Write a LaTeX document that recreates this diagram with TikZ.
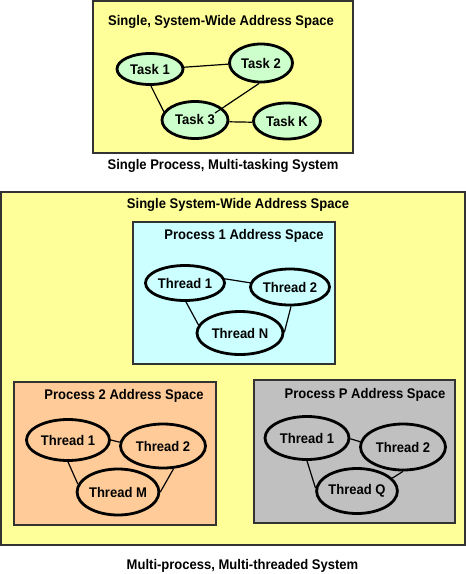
\documentclass[tikz,border=0pt]{standalone}
\usepackage{fontspec}
\setmainfont{Liberation Sans}[FakeStretch=0.93]
\usetikzlibrary{shapes.geometric}
\definecolor{paleyellow}{HTML}{FFFF99}
\definecolor{palegreen}{HTML}{CCFFCC}
\definecolor{palecyan}{HTML}{CCFFFF}
\definecolor{palepeach}{HTML}{FFCC99}
\definecolor{palegray}{HTML}{C0C0C0}
\begin{document}
\begin{tikzpicture}[x=1pt,y=-1pt,
  box/.style={draw=black!80, line width=1.3pt},
  ell/.style={ellipse, draw=black, line width=2.8pt, inner sep=0pt,
    font=\bfseries\fontsize{14}{16}\selectfont},
  lbl/.style={anchor=base, inner sep=0pt, font=\bfseries\fontsize{14}{16}\selectfont},
  link/.style={line width=1.2pt}]
\useasboundingbox (0,0) rectangle (466,574);

% ---------- top: single process ----------
\draw[box, fill=paleyellow] (93,1) rectangle (353,153);
\node[lbl] (toptitle) at (221,25) {Single, System-Wide Address Space};
\node[lbl] (topcap) at (223,169) {Single Process, Multi-tasking System};

\node[ell, fill=palegreen, minimum width=66pt, minimum height=31pt] (t1) at (150,69) {Task 1};
\node[ell, fill=palegreen, minimum width=63pt, minimum height=38pt] (t2) at (261,63) {Task 2};
\node[ell, fill=palegreen, minimum width=66pt, minimum height=37pt] (t3) at (195,120) {Task 3};
\node[ell, fill=palegreen, minimum width=67pt, minimum height=36pt] (tk) at (287,121) {Task K};
\coordinate (t3in) at (215,113);

\draw[link] (t1.3) -- (t2.182);
\draw[link] (t1.273) -- (t3.165);
\draw[link] (t2.265) -- (t3in);
\draw[link] (t3.357) -- (tk.182);

% ---------- bottom: multi-process ----------
\draw[box, fill=paleyellow] (1,192) rectangle (465,545);
\node[lbl] (bigtitle) at (238,208) {Single System-Wide Address Space};
\node[lbl] (bigcap) at (242.5,569) {Multi-process, Multi-threaded System};

% Process 1
\draw[box, fill=palecyan] (133,222) rectangle (335,364);
\node[lbl] (p1title) at (244,239) {Process 1 Address Space};
\node[ell, minimum width=79pt, minimum height=35pt] (a1) at (185,283) {Thread 1};
\node[ell, minimum width=79pt, minimum height=36pt] (a2) at (290,287) {Thread 2};
\node[ell, minimum width=86pt, minimum height=43pt] (an) at (240,333) {Thread N};
\draw[link] (a1.6) -- (a2.174);
\draw[link] (a1.273) -- (an.169);
\draw[link] (an.1) -- (a2.273);

% Process 2
\draw[box, fill=palepeach] (14,382) rectangle (216,525);
\node[lbl] (p2title) at (124,399) {Process 2 Address Space};
\node[ell, minimum width=83pt, minimum height=41pt] (b1) at (68,440) {Thread 1};
\node[ell, minimum width=85pt, minimum height=44pt] (b2) at (163,446) {Thread 2};
\node[ell, minimum width=80pt, minimum height=46pt] (bm) at (118,492) {Thread M};
\draw[link] (b1.0) -- (b2.175);
\draw[link] (b1.270) -- (bm.169);
\draw[link] (bm.0) -- (b2.295);

% Process P
\draw[box, fill=palegray] (254,380) rectangle (455,523);
\node[lbl] (pptitle) at (365,398) {Process P Address Space};
\node[ell, minimum width=84pt, minimum height=43pt] (c1) at (307,438) {Thread 1};
\node[ell, minimum width=85pt, minimum height=46pt] (c2) at (403,447) {Thread 2};
\node[ell, minimum width=80pt, minimum height=45pt] (cq) at (357,491) {Thread Q};
\draw[link] (c1.359) -- (c2.173);
\draw[link] (c1.270) -- (cq.176);
\draw[link] (cq.20) -- (c2.270);
\end{tikzpicture}
\end{document}
